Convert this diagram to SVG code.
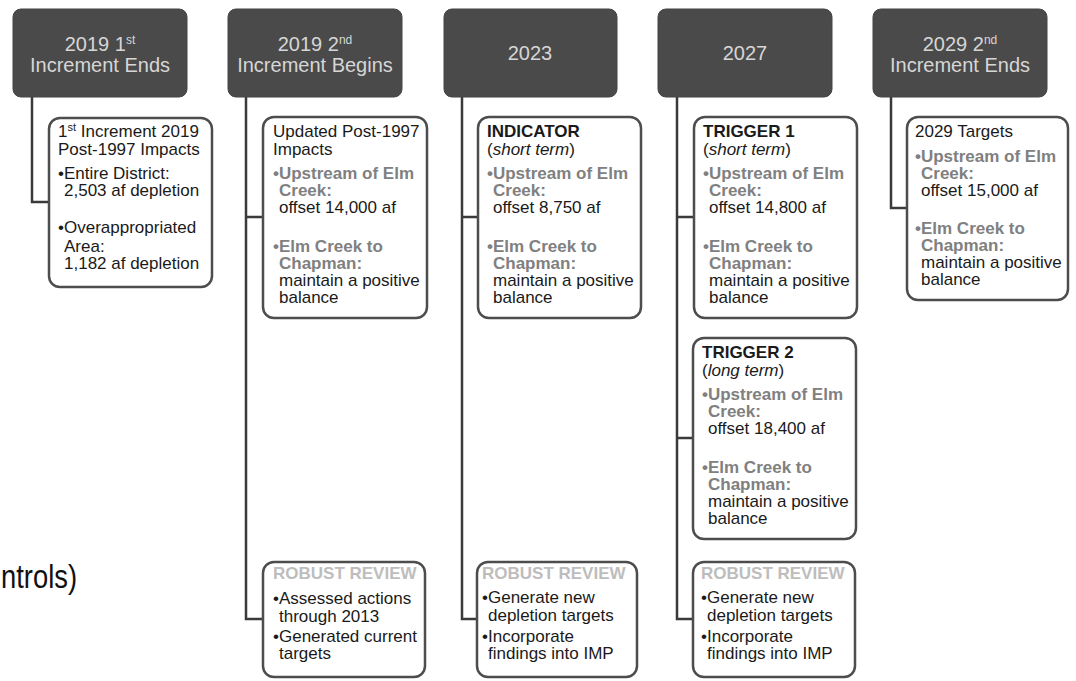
<svg xmlns="http://www.w3.org/2000/svg" width="1076" height="681" viewBox="0 0 1076 681">
<style>
.hdr{fill:#4a4a4a;stroke:#444;stroke-width:1}
.ht{font-family:"Liberation Sans",Arial,sans-serif;font-size:20px;fill:#d6d6d6;text-anchor:middle}
.box{fill:#fff;stroke:#4d4d4d;stroke-width:2.5}
.t{font-family:"Liberation Sans",Arial,sans-serif;font-size:17px;fill:#1a1a1a}
.b{font-weight:bold}
.g{fill:#808080;font-weight:bold}
.rr{fill:#bdbdbd;font-weight:bold}
.i{font-style:italic}
.con{fill:none;stroke:#3a3a3a;stroke-width:2.5}
</style>
<rect width="1076" height="681" fill="#fff"/>

<g id="connectors" class="con">
<path d="M32 97 V202 H49"/>
<path d="M246 97 V619 H263 M246 217 H263"/>
<path d="M462 97 V619 H477 M462 217 H478"/>
<path d="M677 97 V619 H693 M677 217 H694 M677 438 H693"/>
<path d="M891 97 V208 H907"/>
</g>

<g id="h1"><rect class="hdr" x="13" y="9" width="174" height="88" rx="8"/>
<text class="ht" x="100" y="51">2019 1<tspan font-size="12" dy="-7">st</tspan></text>
<text class="ht" x="100" y="72">Increment Ends</text></g>
<g id="h2"><rect class="hdr" x="228" y="9" width="174" height="88" rx="8"/>
<text class="ht" x="315" y="51">2019 2<tspan font-size="12" dy="-7">nd</tspan></text>
<text class="ht" x="315" y="72">Increment Begins</text></g>
<g id="h3"><rect class="hdr" x="444" y="9" width="173" height="88" rx="8"/>
<text class="ht" x="530" y="60">2023</text></g>
<g id="h4"><rect class="hdr" x="658" y="9" width="174" height="88" rx="8"/>
<text class="ht" x="745" y="60">2027</text></g>
<g id="h5"><rect class="hdr" x="873" y="9" width="174" height="88" rx="8"/>
<text class="ht" x="960" y="51">2029 2<tspan font-size="12" dy="-7">nd</tspan></text>
<text class="ht" x="960" y="72">Increment Ends</text></g>

<g id="b1"><rect class="box" x="49" y="118" width="163" height="169" rx="11"/>
<text class="t" x="58" y="137">1<tspan font-size="11" dy="-6">st</tspan><tspan dy="6"> Increment 2019</tspan></text>
<text class="t" x="58" y="155">Post-1997 Impacts</text>
<text class="t" x="58" y="179">•Entire District:</text>
<text class="t" x="64" y="196">2,503 af depletion</text>
<text class="t" x="58" y="233">•Overappropriated</text>
<text class="t" x="64" y="252">Area:</text>
<text class="t" x="64" y="269">1,182 af depletion</text></g>

<g id="b2"><rect class="box" x="263" y="117" width="164" height="201" rx="11"/>
<text class="t" x="273" y="137">Updated Post-1997</text>
<text class="t" x="273" y="155">Impacts</text>
<text class="t g" x="273" y="179">•Upstream of Elm</text>
<text class="t g" x="279" y="196">Creek:</text>
<text class="t" x="279" y="213">offset 14,000 af</text>
<text class="t g" x="273" y="252">•Elm Creek to</text>
<text class="t g" x="279" y="269">Chapman:</text>
<text class="t" x="279" y="286">maintain a positive</text>
<text class="t" x="279" y="303">balance</text></g>

<g id="b3"><rect class="box" x="478" y="117" width="163" height="201" rx="11"/>
<text class="t b" x="487" y="137">INDICATOR</text>
<text class="t" x="487" y="155">(<tspan class="i">short term</tspan>)</text>
<text class="t g" x="487" y="179">•Upstream of Elm</text>
<text class="t g" x="493" y="196">Creek:</text>
<text class="t" x="493" y="213">offset 8,750 af</text>
<text class="t g" x="487" y="252">•Elm Creek to</text>
<text class="t g" x="493" y="269">Chapman:</text>
<text class="t" x="493" y="286">maintain a positive</text>
<text class="t" x="493" y="303">balance</text></g>

<g id="b4"><rect class="box" x="694" y="117" width="163" height="201" rx="11"/>
<text class="t b" x="703" y="137">TRIGGER 1</text>
<text class="t" x="703" y="155">(<tspan class="i">short term</tspan>)</text>
<text class="t g" x="703" y="179">•Upstream of Elm</text>
<text class="t g" x="709" y="196">Creek:</text>
<text class="t" x="709" y="213">offset 14,800 af</text>
<text class="t g" x="703" y="252">•Elm Creek to</text>
<text class="t g" x="709" y="269">Chapman:</text>
<text class="t" x="709" y="286">maintain a positive</text>
<text class="t" x="709" y="303">balance</text></g>

<g id="b4b"><rect class="box" x="693" y="338" width="163" height="201" rx="11"/>
<text class="t b" x="702" y="358">TRIGGER 2</text>
<text class="t" x="702" y="376">(<tspan class="i">long term</tspan>)</text>
<text class="t g" x="702" y="400">•Upstream of Elm</text>
<text class="t g" x="708" y="417">Creek:</text>
<text class="t" x="708" y="434">offset 18,400 af</text>
<text class="t g" x="702" y="473">•Elm Creek to</text>
<text class="t g" x="708" y="490">Chapman:</text>
<text class="t" x="708" y="507">maintain a positive</text>
<text class="t" x="708" y="524">balance</text></g>

<g id="b5"><rect class="box" x="907" y="117" width="161" height="183" rx="11"/>
<text class="t" x="915" y="137">2029 Targets</text>
<text class="t g" x="915" y="162">•Upstream of Elm</text>
<text class="t g" x="921" y="179">Creek:</text>
<text class="t" x="921" y="196">offset 15,000 af</text>
<text class="t g" x="915" y="234">•Elm Creek to</text>
<text class="t g" x="921" y="251">Chapman:</text>
<text class="t" x="921" y="268">maintain a positive</text>
<text class="t" x="921" y="285">balance</text></g>

<g id="rr2"><rect class="box" x="263" y="562" width="162" height="115" rx="11"/>
<text class="t rr" x="273" y="579">ROBUST REVIEW</text>
<text class="t" x="273" y="604">•Assessed actions</text>
<text class="t" x="279" y="622">through 2013</text>
<text class="t" x="273" y="642">•Generated current</text>
<text class="t" x="279" y="659">targets</text></g>

<g id="rr3"><rect class="box" x="477" y="562" width="160" height="115" rx="11"/>
<text class="t rr" x="482" y="579">ROBUST REVIEW</text>
<text class="t" x="482" y="603">•Generate new</text>
<text class="t" x="488" y="621">depletion targets</text>
<text class="t" x="482" y="642">•Incorporate</text>
<text class="t" x="488" y="659">findings into IMP</text></g>

<g id="rr4"><rect class="box" x="693" y="562" width="162" height="115" rx="11"/>
<text class="t rr" x="701" y="579">ROBUST REVIEW</text>
<text class="t" x="701" y="603">•Generate new</text>
<text class="t" x="707" y="621">depletion targets</text>
<text class="t" x="701" y="642">•Incorporate</text>
<text class="t" x="707" y="659">findings into IMP</text></g>

<text x="1" y="588" font-family="'Liberation Sans Narrow','Liberation Sans',Arial,sans-serif" font-size="34" fill="#111" textLength="76" lengthAdjust="spacingAndGlyphs">ntrols)</text>
</svg>
